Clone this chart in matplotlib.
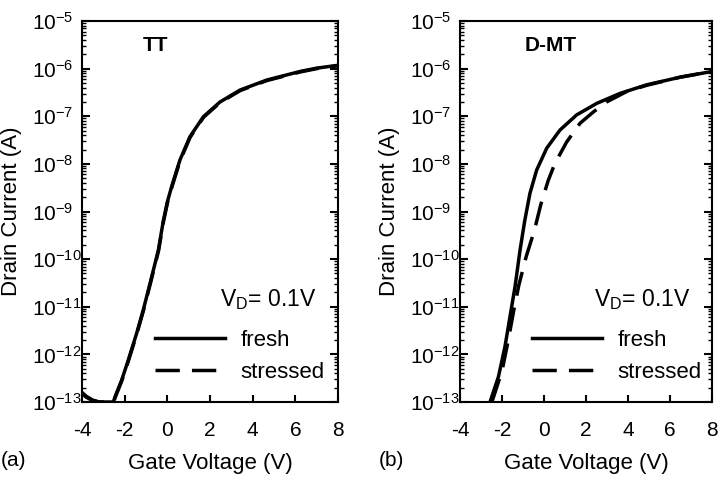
import matplotlib
matplotlib.use("Agg")
import matplotlib.pyplot as plt
import numpy as np
from matplotlib.ticker import LogLocator, NullFormatter, FixedLocator

plt.rcParams['font.family'] = ['Liberation Sans', 'DejaVu Sans']
plt.rcParams['mathtext.fontset'] = 'custom'
plt.rcParams['mathtext.rm'] = 'Liberation Sans'
plt.rcParams['mathtext.it'] = 'Liberation Sans:italic'
plt.rcParams['mathtext.bf'] = 'Liberation Sans:bold'
plt.rcParams['axes.unicode_minus'] = False

# drain current given as log10(I_D / A)
# TT device
tt_vg_fresh = [-4.0, -3.8, -3.5, -3.2, -2.8, -2.53, -2.45, -2.14, -1.83, -1.44, -1.13, -0.81, -0.42, -0.19, 0.0, 0.2, 0.59, 1.06, 1.69, 2.47, 3.41, 4.66, 6.22, 7.0, 8.0]
tt_log_fresh = [-12.8, -12.88, -12.96, -13.0, -13.0, -13.0, -12.89, -12.54, -12.12, -11.56, -11.07, -10.51, -9.81, -9.2, -8.8, -8.48, -7.92, -7.43, -7.01, -6.70, -6.45, -6.24, -6.06, -5.99, -5.93]
tt_vg_stress = [-4.0, -3.8, -3.5, -3.2, -2.8, -2.52, -2.44, -2.13, -1.82, -1.43, -1.12, -0.8, -0.41, -0.18, 0.01, 0.21, 0.6, 1.07, 1.7, 2.48, 3.42, 4.67, 6.23, 7.0, 8.0]
tt_log_stress = [-12.82, -12.9, -12.97, -13.0, -13.0, -13.0, -12.9, -12.55, -12.13, -11.57, -11.08, -10.52, -9.82, -9.21, -8.81, -8.49, -7.93, -7.44, -7.02, -6.71, -6.46, -6.25, -6.07, -6.0, -5.94]

# D-MT device
dmt_vg_fresh = [-2.57, -2.17, -1.86, -1.62, -1.38, -1.14, -0.92, -0.67, -0.35, 0.13, 0.76, 1.56, 2.51, 3.62, 4.89, 6.48, 8.0]
dmt_log_fresh = [-13.0, -12.47, -11.84, -11.21, -10.58, -9.81, -9.2, -8.62, -8.13, -7.67, -7.29, -6.97, -6.73, -6.52, -6.34, -6.18, -6.06]
dmt_vg_stress = [-2.48, -2.0, -1.7, -1.45, -1.2, -0.85, -0.46, -0.15, 0.2, 0.52, 1.08, 1.71, 2.35, 2.98, 3.94, 4.89, 6.48, 8.0]
dmt_log_stress = [-13.0, -12.35, -11.7, -11.1, -10.55, -9.95, -9.4, -8.85, -8.35, -7.99, -7.54, -7.15, -6.91, -6.70, -6.48, -6.35, -6.18, -6.06]

panels = [
    ("TT", "(a)", tt_vg_fresh, tt_log_fresh, tt_vg_stress, tt_log_stress),
    ("D-MT", "(b)", dmt_vg_fresh, dmt_log_fresh, dmt_vg_stress, dmt_log_stress),
]
xticks = [-4, -2, 0, 2, 4, 6, 8]
title_x = [0.238, 0.258]

fig = plt.figure(figsize=(7.21, 4.80), dpi=100)
axes_rects = [[82/721, 78/480, 256/721, 381/480], [460/721, 78/480, 252/721, 381/480]]

for i, (rect, (name, tag, vf, lf, vs, ls)) in enumerate(zip(axes_rects, panels)):
    ax = fig.add_axes(rect)
    ax.plot(vf, 10.0 ** np.array(lf), color='black', lw=2.5)
    ax.plot(vs, 10.0 ** np.array(ls), color='black', lw=2.5, dashes=(7, 3.5))
    ax.set_yscale('log')
    ax.set_xlim(-4, 8)
    ax.set_ylim(1e-13, 1e-5)
    ax.xaxis.set_major_locator(FixedLocator(xticks))
    ax.yaxis.set_major_locator(LogLocator(base=10, numticks=20))
    ax.yaxis.set_minor_locator(LogLocator(base=10, subs=range(2, 10), numticks=100))
    ax.yaxis.set_minor_formatter(NullFormatter())
    # tick labels on the y axis are left aligned in the original
    ax.tick_params(axis='y', which='both', direction='in', left=True, right=True, labelsize=15, pad=36)
    ax.tick_params(axis='y', which='major', length=6, width=1.5)
    ax.tick_params(axis='y', which='minor', length=3, width=1)
    ax.tick_params(axis='x', which='major', direction='in', top=False, length=5, width=1.5, labelsize=15, pad=14)
    for lab in ax.get_yticklabels():
        lab.set_horizontalalignment('left')
    for s in ax.spines.values():
        s.set_linewidth(1.5)
    ax.set_xlabel("Gate Voltage (V)", fontsize=16, labelpad=9)
    ax.set_ylabel("Drain Current (A)", fontsize=16, labelpad=7)
    ax.text(title_x[i], 0.935, name, transform=ax.transAxes,
            fontsize=15, fontweight='bold', va='center', ha='left')
    ax.text(0.915, 0.27, r"V$_\mathregular{D}$= 0.1V", transform=ax.transAxes,
            fontsize=16.5, va='center', ha='right')
    h1, = ax.plot([], [], color='black', lw=2.5)
    h2, = ax.plot([], [], color='black', lw=2.5, dashes=(7, 3.5))
    ax.legend([h1, h2], ["fresh", "stressed"], loc='upper left',
              bbox_to_anchor=(73/256, 0.19), frameon=False, fontsize=16,
              borderpad=0, borderaxespad=0,
              handlelength=3.15, handletextpad=0.7, labelspacing=0.5)
    fig.text(rect[0] - 81/721, 20/480, tag, fontsize=15, ha='left', va='center')

fig.savefig("out.png", dpi=100)
